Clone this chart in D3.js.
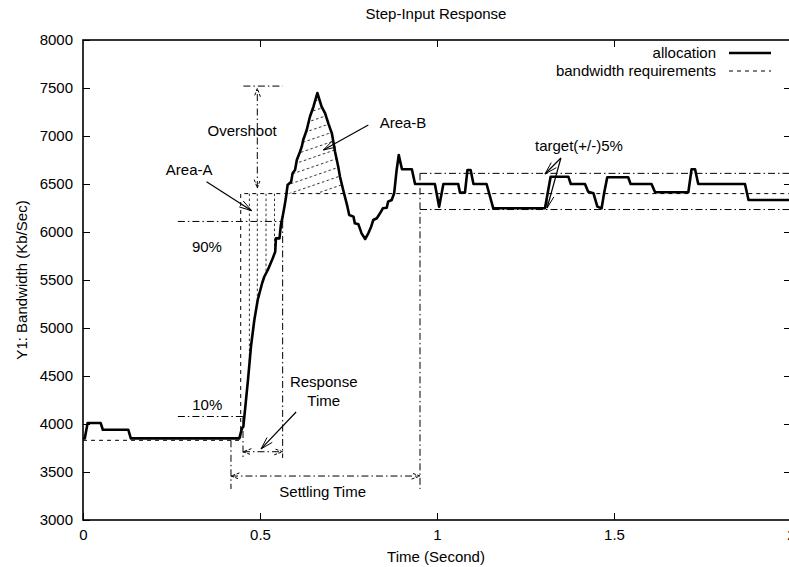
<!DOCTYPE html>
<html><head><meta charset="utf-8">
<script src="https://cdn.jsdelivr.net/npm/d3@7"></script>
<style>
html,body{margin:0;padding:0;background:#fff;}
svg{display:block;font-family:"Liberation Sans",Arial,Helvetica,sans-serif;}
</style></head><body>
<svg id="chart" width="789" height="567"></svg>
<script>
// ---------- data ----------
const allocT = [0,0.005,0.013,0.050,0.056,0.128,0.135,0.4415,0.449,0.453,0.466,0.475,0.484,0.4935,0.506,0.512,0.522,0.528,0.536,0.543,0.545,0.555,0.559,0.564,0.569,0.573,0.578,0.588,0.592,0.599,0.604,0.613,0.618,0.622,0.632,0.641,0.651,0.662,0.674,0.684,0.693,0.703,0.712,0.721,0.726,0.735,0.747,0.752,0.764,0.768,0.778,0.787,0.797,0.806,0.814,0.820,0.830,0.839,0.847,0.858,0.862,0.872,0.879,0.886,0.892,0.901,0.929,0.938,0.994,1.006,1.018,1.060,1.065,1.079,1.086,1.095,1.103,1.140,1.159,1.305,1.321,1.371,1.378,1.418,1.427,1.442,1.453,1.465,1.472,1.481,1.540,1.547,1.606,1.616,1.710,1.719,1.729,1.738,1.870,1.880,2.0];
const allocV = [3850,3850,4010,4010,3940,3940,3850,3850,3955,3972,4458,4823,5083,5292,5466,5534,5604,5656,5726,5795,5934,5934,6073,6160,6264,6351,6490,6524,6611,6646,6750,6836,6889,6958,7063,7201,7305,7448,7305,7236,7132,7028,6836,6680,6576,6438,6264,6177,6160,6090,6080,5986,5927,5986,6055,6125,6143,6195,6247,6253,6316,6333,6403,6646,6802,6653,6653,6500,6500,6264,6500,6500,6410,6410,6646,6646,6500,6500,6247,6247,6576,6576,6500,6500,6420,6403,6264,6247,6403,6570,6570,6500,6500,6414,6414,6653,6653,6500,6500,6333,6333];
const bwT = [0, 0.4455, 0.4455, 2];
const bwV = [3830, 3830, 6400, 6400];
const xTicks = [0, 0.5, 1, 1.5, 2];
const xTickLabels = ["0", "0.5", "1", "1.5", "2"];
const yTicks = [3000, 3500, 4000, 4500, 5000, 5500, 6000, 6500, 7000, 7500, 8000];
const legendLabels = ["allocation", "bandwidth requirements"];

// annotation geometry, in data units (time, Kb/Sec)
const dashDotSegs = [
  [[0.453, 7520], [0.564, 7520]],   // overshoot cap
  [[0.268, 6110], [0.566, 6110]],   // 90%
  [[0.268, 4078], [0.452, 4078]],   // 10%
  [[0.452, 4078], [0.452, 3625]],   // response start
  [[0.564, 6110], [0.564, 3646]],   // response end
  [[0.418, 3830], [0.418, 3323]],   // settling start
  [[0.952, 6611], [0.952, 3323]],   // settling end
  [[0.952, 6611], [2.0, 6611]],     // target upper
  [[0.952, 6234], [2.0, 6234]]      // target lower
];
const dashDotArrows = [
  [[0.4924, 6458], [0.4924, 7497]], // overshoot
  [[0.452, 3711], [0.564, 3711]],   // response time
  [[0.418, 3458], [0.952, 3458]]    // settling time
];
const solidArrows = [
  [[0.349, 6524], [0.4766, 6222]],  // Area-A
  [[0.806, 7115], [0.679, 6854]],   // Area-B
  [[0.602, 4125], [0.503, 3740]],   // Response time
  [[1.350, 6771], [1.305, 6604]],   // target upper
  [[1.350, 6771], [1.311, 6250]]    // target lower
];
const areaAHatchT = [0.470, 0.4924, 0.517, 0.541];
const areaARange = [0.4415, 0.60];
const areaBRange = [0.573, 0.752];
const bwLevel = 6400;

const labels = [
  {text: "Overshoot", t: 0.4495, v: 7050},
  {text: "Area-A", t: 0.300, v: 6650},
  {text: "Area-B", t: 0.904, v: 7140},
  {text: "90%", t: 0.350, v: 5850},
  {text: "10%", t: 0.351, v: 4200},
  {text: "Response", t: 0.680, v: 4440},
  {text: "Time", t: 0.680, v: 4245},
  {text: "Settling Time", t: 0.677, v: 3290},
  {text: "target(+/-)5%", t: 1.401, v: 6900}
];

// ---------- layout ----------
const svg = d3.select("#chart");
const L = 83, R = 791, T = 40, B = 520;
const x = d3.scaleLinear().domain([0, 2]).range([L, R]);
const y = d3.scaleLinear().domain([3000, 8000]).range([B, T]);
const FS = 15;

// title
svg.append("text").attr("x", 436).attr("y", 14).attr("dy", "0.35em")
  .attr("text-anchor", "middle").attr("font-size", FS).text("Step-Input Response");

// axes
const axG = svg.append("g").attr("font-size", FS);
const ax = (g, axis) => { g.call(axis); g.select(".domain").remove();
  g.selectAll("text").attr("font-size", FS).attr("fill", "#000")
   .attr("font-family", '"Liberation Sans",Arial,sans-serif');
  g.selectAll("line").attr("stroke", "#000").attr("stroke-width", 1); };
axG.append("g").attr("transform", `translate(${L},0)`)
  .call(g => ax(g, d3.axisLeft(y).tickValues(yTicks).tickSize(-7).tickPadding(10).tickFormat(d3.format("d"))));
axG.append("g").attr("transform", `translate(${R},0)`)
  .call(g => ax(g, d3.axisRight(y).tickValues(yTicks.slice(1, -1)).tickSize(-7).tickFormat("")));
axG.append("g").attr("transform", `translate(0,${B})`)
  .call(g => ax(g, d3.axisBottom(x).tickValues(xTicks).tickSize(-7).tickPadding(9).tickFormat((d, i) => xTickLabels[i])));
axG.append("g").attr("transform", `translate(0,${T})`)
  .call(g => ax(g, d3.axisTop(x).tickValues(xTicks.slice(1, -1)).tickSize(-7).tickFormat("")));

// axis titles
svg.append("text").attr("x", 436).attr("y", 557).attr("dy", "0.35em")
  .attr("text-anchor", "middle").attr("font-size", FS).text("Time (Second)");
svg.append("text").attr("transform", `translate(22,${(T + B) / 2}) rotate(-90)`)
  .attr("dy", "0.35em").attr("text-anchor", "middle").attr("font-size", FS)
  .text("Y1: Bandwidth (Kb/Sec)");

const alloc = allocT.map((t, i) => [t, allocV[i]]);
const bw = bwT.map((t, i) => [t, bwV[i]]);
const line = d3.line().x(d => x(d[0])).y(d => y(d[1]));

// defs: clip + hatch
const defs = svg.append("defs");
defs.append("clipPath").attr("id", "plotClip").append("rect")
  .attr("x", L).attr("y", T).attr("width", R - L).attr("height", B - T);
const pat = defs.append("pattern").attr("id", "hatchB").attr("patternUnits", "userSpaceOnUse")
  .attr("width", 40).attr("height", 8.8).attr("patternTransform", "rotate(-19)");
pat.append("line").attr("x1", 0).attr("x2", 40).attr("y1", 4.4).attr("y2", 4.4)
  .attr("stroke", "#000").attr("stroke-width", 0.8).attr("stroke-dasharray", "2.5,2.5");

const areaA = alloc.filter(d => d[0] >= areaARange[0] && d[0] <= areaARange[1]);
defs.append("clipPath").attr("id", "clipA").append("path")
  .attr("d", d3.area().x(d => x(d[0])).y0(y(bwLevel)).y1(d => y(Math.min(d[1], bwLevel)))(areaA));
const areaB = alloc.filter(d => d[0] >= areaBRange[0] && d[0] <= areaBRange[1]);

const plot = svg.append("g").attr("clip-path", "url(#plotClip)");

// Area-B hatch
plot.append("path")
  .attr("d", d3.area().x(d => x(d[0])).y0(y(bwLevel)).y1(d => y(Math.max(d[1], bwLevel)))(areaB))
  .attr("fill", "url(#hatchB)").attr("stroke", "none");

// Area-A hatch
plot.append("g").attr("clip-path", "url(#clipA)").selectAll("line").data(areaAHatchT).join("line")
  .attr("x1", d => x(d)).attr("x2", d => x(d)).attr("y1", y(bwLevel)).attr("y2", y(3800))
  .attr("stroke", "#000").attr("stroke-width", 0.8).attr("stroke-dasharray", "2.5,2.5");

// bandwidth requirement
plot.append("path").attr("d", line(bw)).attr("fill", "none").attr("stroke", "#000")
  .attr("stroke-width", 1).attr("stroke-dasharray", "4,4");

// dash-dot annotation lines
const DD = "7,3,1.5,3";
plot.selectAll("line.dd").data(dashDotSegs).join("line").attr("class", "dd")
  .attr("x1", d => x(d[0][0])).attr("y1", d => y(d[0][1]))
  .attr("x2", d => x(d[1][0])).attr("y2", d => y(d[1][1]))
  .attr("stroke", "#000").attr("stroke-width", 1).attr("stroke-dasharray", DD);

function head(g, p0, p1, len, ang, dash) {
  const a = Math.atan2(p1[1] - p0[1], p1[0] - p0[0]);
  const h1 = [p1[0] - len * Math.cos(a - ang), p1[1] - len * Math.sin(a - ang)];
  const h2 = [p1[0] - len * Math.cos(a + ang), p1[1] - len * Math.sin(a + ang)];
  g.append("path").attr("d", `M${h1}L${p1}L${h2}`).attr("fill", "none")
    .attr("stroke", "#000").attr("stroke-width", 1).attr("stroke-dasharray", dash || null);
}
const px = d => [x(d[0]), y(d[1])];
dashDotArrows.forEach(s => {
  const a = px(s[0]), b = px(s[1]);
  plot.append("line").attr("x1", a[0]).attr("y1", a[1]).attr("x2", b[0]).attr("y2", b[1])
    .attr("stroke", "#000").attr("stroke-width", 1).attr("stroke-dasharray", DD);
  head(plot, a, b, 9, 0.35, "3,1.5");
  head(plot, b, a, 9, 0.35, "3,1.5");
});
solidArrows.forEach(s => {
  const a = px(s[0]), b = px(s[1]);
  plot.append("line").attr("x1", a[0]).attr("y1", a[1]).attr("x2", b[0]).attr("y2", b[1])
    .attr("stroke", "#000").attr("stroke-width", 1.2);
  head(plot, a, b, 13, 0.28);
});

// allocation line
plot.append("path").attr("d", line(alloc)).attr("fill", "none").attr("stroke", "#000")
  .attr("stroke-width", 2.6).attr("stroke-linejoin", "round");

// border
svg.append("rect").attr("x", L).attr("y", T).attr("width", R - L).attr("height", B - T)
  .attr("fill", "none").attr("stroke", "#000").attr("stroke-width", 1.6);

// annotation labels
svg.selectAll("text.lab").data(labels).join("text").attr("class", "lab")
  .attr("x", d => x(d.t)).attr("y", d => y(d.v)).attr("dy", "0.35em")
  .attr("text-anchor", "middle").attr("font-size", FS).text(d => d.text);

// legend
const lg = svg.append("g").attr("font-size", FS);
[53, 71].forEach((yy, i) => {
  lg.append("text").attr("x", 716).attr("y", yy).attr("dy", "0.35em")
    .attr("text-anchor", "end").text(legendLabels[i]);
  lg.append("line").attr("x1", 729).attr("x2", 771).attr("y1", yy).attr("y2", yy)
    .attr("stroke", "#000").attr("stroke-width", i === 0 ? 2.6 : 1)
    .attr("stroke-dasharray", i === 0 ? null : "4,4");
});
</script>
</body></html>
